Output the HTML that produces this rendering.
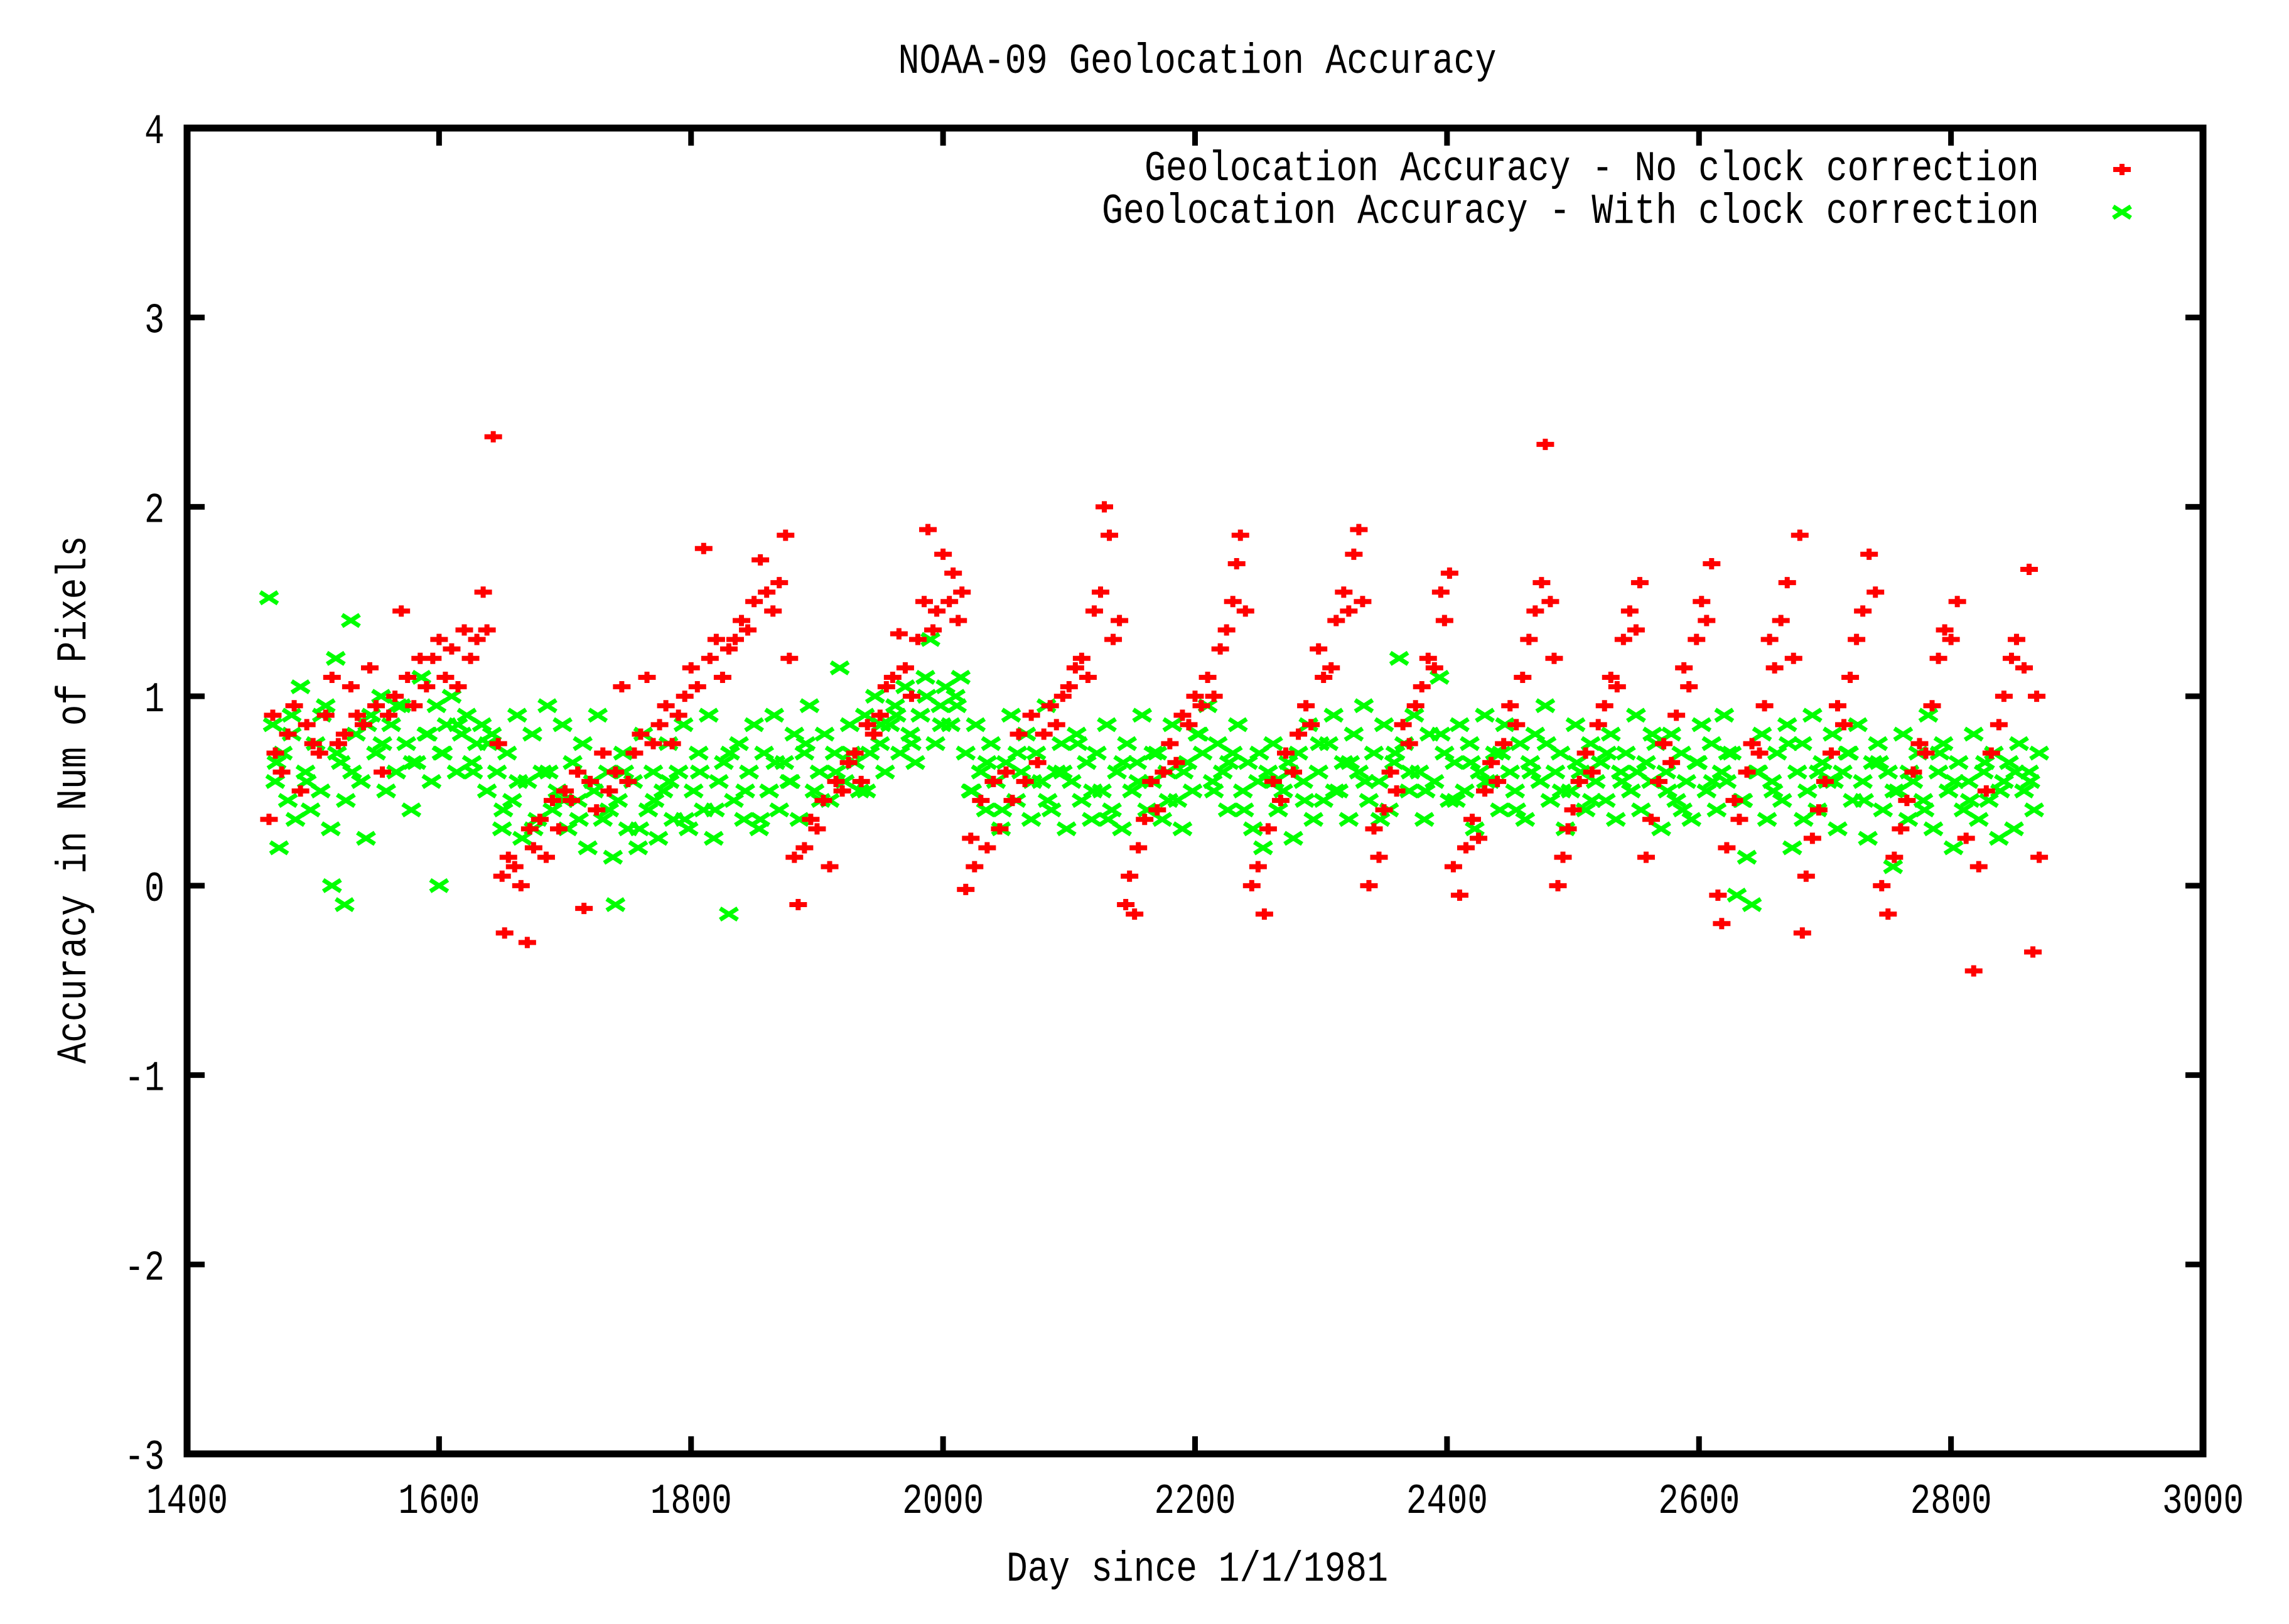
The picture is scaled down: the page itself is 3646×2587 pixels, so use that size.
<!DOCTYPE html>
<html><head><meta charset="utf-8"><style>
html,body{margin:0;padding:0;background:#fff;}
svg text{font-family:"Liberation Mono",monospace;font-size:68px;fill:#000;}
</style></head><body>
<svg id="chart" xmlns="http://www.w3.org/2000/svg" width="3646" height="2582" viewBox="0 0 3646 2582">
<rect width="3646" height="2582" fill="#fff"/>
<text x="1907" y="116" text-anchor="middle" textLength="953" lengthAdjust="spacingAndGlyphs">NOAA-09 Geolocation Accuracy</text>
<text x="1907" y="2518" text-anchor="middle" textLength="608" lengthAdjust="spacingAndGlyphs">Day since 1/1/1981</text>
<text transform="translate(136,1274) rotate(-90)" x="0" y="0" text-anchor="middle" textLength="841" lengthAdjust="spacingAndGlyphs">Accuracy in Num of Pixels</text>
<g id="ticks"></g>
<g id="green"></g>
<g id="red"></g>
<rect x="298" y="204" width="3211" height="2112" fill="none" stroke="#000" stroke-width="11"/>
<g>
<text x="3248" y="287" text-anchor="end" textLength="1425" lengthAdjust="spacingAndGlyphs">Geolocation Accuracy - No clock correction</text>
<text x="3248" y="355" text-anchor="end" textLength="1493" lengthAdjust="spacingAndGlyphs">Geolocation Accuracy - With clock correction</text>
<g id="legmarks"></g>
</g>
</svg>
<script>
const xTicks=[1400,1600,1800,2000,2200,2400,2600,2800,3000];
const yTicks=[-3,-2,-1,0,1,2,3,4];
const redDays=[1465,1468,1470,1475,1480,1485,1490,1495,1500,1505,1510,1515,1520,1525,1530,1535,1540,1545,1550,1555,1560,1565,1570,1575,1580,1585,1590,1595,1600,1605,1610,1615,1620,1625,1630,1635,1638,1643,1647,
1650,1652,1655,1660,1665,1670,1672,1675,1680,1685,1690,1695,1700,1705,1710,1715,1720,1725,1730,1735,1740,1745,1750,1755,1760,1765,1770,1775,1780,1785,1790,1795,1800,1805,1810,1815,1820,1825,1830,1835,1840,1845,1850,1855,1860,1865,1870,1875,1878,
1882,1885,1890,1895,1900,1905,1910,1915,1920,1925,1930,1935,1940,1945,1950,1955,1960,1965,1970,1975,1980,1985,1988,1992,1995,2000,2005,2008,2012,2015,
2018,2022,2025,2030,2035,2040,2045,2050,2055,2060,2065,2070,2075,2080,2085,2090,2095,2100,2105,2110,2115,2120,2125,2128,2132,2135,2140,
2145,2148,2152,2155,2160,2165,2170,2175,2180,2185,2190,2195,2200,2205,2210,2215,2220,2225,2230,2233,2236,2240,
2245,2250,2255,2258,2262,2268,2272,2278,2282,2288,2292,2298,2302,2308,2312,2318,2322,2326,2330,2333,
2338,2342,2346,2350,2355,2360,2365,2370,2375,2380,2385,2390,2395,2398,2402,
2405,2410,2415,2420,2425,2430,2435,2440,2445,2450,2455,2460,2465,2470,2475,2478,2482,2485,
2488,2492,2496,2500,2505,2510,2515,2520,2525,2530,2535,2540,2545,2550,2553,
2558,2562,2568,2572,2578,2582,2588,2592,2598,2602,2606,2610,
2615,2618,2622,2628,2632,2638,2642,2648,2652,2656,2660,2665,2670,2675,2680,
2682,2685,2690,2695,2700,2705,2710,2715,2720,2725,2730,2735,2740,
2745,2750,2755,2760,2765,2770,2775,2780,2785,2790,2795,2800,2805,
2812,2818,2822,2828,2832,2838,2842,2848,2852,2858,2862,2865,2868,2870];
const redVals=[.35,.9,.7,.6,.8,.95,.5,.85,.75,.7,.9,1.1,.75,.8,1.05,.9,.85,1.15,.95,.6,.9,1.0,1.45,1.1,.95,1.2,1.05,1.2,1.3,1.1,1.25,1.05,1.35,1.2,1.3,1.55,1.35,2.37,.75,
.05,-.25,.15,.1,0,-.3,.3,.2,.35,.15,.45,.3,.5,.45,.6,-.12,.55,.4,.7,.5,.6,1.05,.55,.7,.8,1.1,.75,.85,.95,.75,.9,1.0,1.15,1.05,1.78,1.2,1.3,1.1,1.25,1.3,1.4,1.35,1.5,1.72,1.55,1.45,1.6,1.85,1.2,
.15,-.1,.2,.35,.3,.45,.1,.55,.5,.65,.7,.55,.85,.8,.9,1.05,1.1,1.33,1.15,1.0,1.3,1.5,1.88,1.35,1.45,1.75,1.5,1.65,1.4,1.55,
-.02,.25,.1,.45,.2,.55,.3,.6,.45,.8,.55,.9,.65,.8,.95,.85,1.0,1.05,1.15,1.2,1.1,1.45,1.55,2.0,1.85,1.3,1.4,
-.1,.05,-.15,.2,.35,.55,.4,.6,.75,.65,.9,.85,1.0,.95,1.1,1.0,1.25,1.35,1.5,1.7,1.85,1.45,
0,.1,-.15,.3,.55,.45,.7,.6,.8,.95,.85,1.25,1.1,1.15,1.4,1.55,1.45,1.75,1.88,1.5,
0,.3,.15,.4,.6,.5,.85,.75,.95,1.05,1.2,1.15,1.55,1.4,1.65,
.1,-.05,.2,.35,.25,.5,.65,.55,.75,.95,.85,1.1,1.3,1.45,1.6,2.33,1.5,1.2,
0,.15,.3,.4,.55,.7,.6,.85,.95,1.1,1.05,1.3,1.45,1.35,1.6,
.15,.35,.55,.75,.65,.9,1.15,1.05,1.3,1.5,1.4,1.7,
-.05,-.2,.2,.45,.35,.6,.75,.7,.95,1.3,1.15,1.4,1.6,1.2,1.85,
-.25,.05,.25,.4,.55,.7,.95,.85,1.1,1.3,1.45,1.75,1.55,
0,-.15,.15,.3,.45,.6,.75,.7,.95,1.2,1.35,1.3,1.5,
.25,-.45,.1,.5,.7,.85,1.0,1.2,1.3,1.15,1.67,-.35,1.0,.15];
const greenDays=[1465,1468,1470,1473,1476,1480,1483,1486,1490,1494,1498,1502,1506,1510,1514,1515,1518,1522,1525,1526,1530,1534,1538,1542,1546,1550,1554,1558,1562,1566,1570,1574,1578,1582,1586,1590,1594,1598,1600,1602,1606,1610,1614,1618,1622,1626,1630,1634,1638,1642,1646,
1650,1654,1658,1662,1666,1670,1674,1678,1682,1686,1690,1694,1698,1702,1706,1710,1714,1718,1722,1726,1730,1734,1738,1740,1742,1746,1750,1754,1758,1762,1766,1770,1774,1778,1782,1786,1790,1794,1798,1802,1806,1810,1814,1818,1822,1826,1830,1834,1838,1842,1846,1850,1854,1858,1862,1866,1870,1874,1878,1882,1886,1890,1894,1898,1902,1906,1910,1914,1918,1922,1926,1930,1934,1938,1942,1946,1950,
1954,1958,1962,1966,1970,1974,1978,1982,1986,1990,1994,1998,2002,2006,2010,2014,2018,2022,2026,2030,2034,2038,2042,2046,2050,2054,2058,2062,2066,2070,2074,2078,2082,2086,2090,2094,2098,2102,2106,2110,2114,2118,2122,2126,2130,2134,2138,2142,2146,2150,2154,2158,2162,2166,2170,2174,2178,2182,2186,2190,2194,2198,2202,2206,2210,2214,2218,2222,2226,2230,2234,2238,2242,2246,2250,2254,2258,2262,2266,2270,2274,2278,2282,2286,2290,2294,2298,2302,2306,2310,2314,2318,2322,2326,2330,2334,2338,2342,2346,2350,2354,2358,2362,2366,2370,2374,2378,2382,2386,2390,2394,2398,2402,2406,2410,2414,2418,2422,2426,2430,2434,2438,2442,2446,2450,2454,2458,2462,2466,2470,2474,2478,2482,2486,2490,2494,2498,2502,2506,2510,2514,2518,2522,2526,2530,2534,2538,2542,2546,2550,2554,2558,2562,2566,2570,2574,2578,2582,2586,2590,2594,2598,2602,2606,2610,2614,2618,2620,2622,2626,2630,2634,2638,2642,2646,2650,2654,2658,2662,2666,2670,2674,2678,2682,2686,2690,2694,2698,2702,2706,2710,2714,2718,2722,2726,2730,2734,2738,2742,2746,2750,2754,2758,2762,2766,2770,2774,2778,2782,2786,2790,2794,2798,2802,2806,2810,2814,2818,2822,2826,2830,2834,2838,2842,2846,2850,2854,2858,2862,2866,2870];
const greenVals=[1.52,.85,.55,.2,.7,.45,.9,.35,1.05,.6,.4,.75,.5,.95,.3,0,1.2,.65,-.1,.45,1.4,.8,.55,.25,.9,.7,1.0,.5,.85,.6,.95,.75,.4,.65,1.1,.8,.55,.95,0,.7,.85,1.0,.6,.8,.9,.65,.75,.85,.5,.8,.6,
.3,.7,.45,.9,.25,.55,.8,.35,.6,.95,.4,.5,.85,.3,.65,.45,.75,.2,.55,.9,.35,.6,.15,-.1,.45,.7,.3,.55,.2,.8,.4,.6,.25,.5,.75,.35,.6,.85,.3,.5,.7,.4,.9,.25,.55,.65,-.15,.45,.75,.35,.6,.85,.3,.7,.5,.9,.4,.65,.55,.8,.35,.7,.95,.5,.6,.8,.45,.7,1.15,.55,.85,.65,.5,.9,.7,1.0,.75,
.6,.85,.95,.7,1.05,.8,.65,.9,1.1,1.3,.75,.95,1.05,.85,1.0,1.1,.7,.5,.85,.6,.4,.75,.55,.3,.65,.9,.45,.6,.8,.35,.7,.55,.95,.4,.6,.75,.3,.55,.8,.45,.65,.35,.7,.5,.85,.4,.6,.3,.75,.5,.65,.9,.4,.55,.7,.35,.6,.85,.45,.3,.65,.5,.8,.7,.95,.55,.75,.6,.4,.7,.85,.5,.65,.3,.55,.2,.6,.75,.4,.5,.65,.25,.7,.55,.85,.35,.6,.45,.75,.9,.5,.65,.35,.8,.6,.95,.45,.7,.55,.85,.4,.65,1.2,.75,.5,.9,.6,.35,.8,.55,1.1,.7,.45,.65,.85,.5,.75,.3,.6,.9,.55,.7,.4,.85,.6,.5,.75,.35,.65,.8,.55,.95,.45,.6,.7,.3,.5,.85,.6,.4,.75,.55,.65,.45,.8,.35,.6,.7,.5,.9,.4,.65,.55,.75,.3,.6,.8,.45,.7,.55,.35,.65,.85,.5,.75,.4,.6,.9,.55,.7,-.05,.45,.15,-.1,.6,.8,.35,.55,.7,.45,.85,.2,.6,.75,.5,.9,.4,.65,.55,.8,.3,.6,.7,.45,.85,.55,.25,.65,.75,.4,.6,.1,.5,.8,.35,.55,.7,.45,.9,.3,.6,.75,.5,.2,.65,.4,.55,.8,.35,.6,.45,.7,.25,.55,.65,.3,.75,.5,.6,.4,.7,.35,.55,.45];
const greenDays2=[1471,1483,1495,1507,1519,1531,1543,1555,1567,1579,1591,1603,1615,1627,1639,1651,1663,1675,1687,1699,1711,1723,1735,1747,1759,1771,1783,1795,1807,1819,1831,1843,1855,1867,1879,1891,1903,1915,1927,1939,1951,1963,1975,1987,1999,2011,2023,2035,2047,2059,2071,2083,2095,2107,2119,2131,2143,2155,2167,2179,2191,2203,2215,2227,2239,2251,2263,2275,2287,2299,2311,2323,2335,2347,2359,2371,2383,2395,2407,2419,2431,2443,2455,2467,2479,2491,2503,2515,2527,2539,2551,2563,2575,2587,2599,2611,2623,2635,2647,2659,2671,2683,2695,2707,2719,2731,2743,2755,2767,2779,2791,2803,2815,2827,2839,2851,2863];
const greenVals2=[.65,.8,.55,.9,.7,.6,.85,.75,.95,.65,.8,.7,.85,.6,.75,
.4,.55,.3,.6,.45,.35,.5,.4,.6,.3,.45,.55,.35,
.6,.4,.7,.5,.35,.65,.55,.75,.45,.6,.7,.5,
.85,.9,.75,1.0,.85,.95,
.5,.65,.4,.7,.55,.45,.6,.75,.5,.35,.65,.55,.7,.45,.6,.8,.5,.65,.4,.7,.55,.6,.45,.75,.5,.65,.55,.35,.7,.6,.5,.8,.45,.65,.55,.7,.4,.6,.75,.5,.65,.45,.7,.55,.6,.8,.5,.4,.65,.55,.7,.45,.6,.5,.75,.35,.6,.55,.7,.45,.65,.5,.6,.4,.7,.55,.45,.65,.5,.6,.55];

const X0=298,X1=3509,Y0=204,Y1=2316;
function sx(d){return X0+(d-1400)/(3000-1400)*(X1-X0);}
function sy(v){return Y1-(v-(-3))/(4-(-3))*(Y1-Y0);}
const NS='http://www.w3.org/2000/svg';
const ticksG=document.getElementById('ticks');
xTicks.forEach(t=>{
  const x=sx(t);
  const l1=document.createElementNS(NS,'path');
  l1.setAttribute('d',`M${x},${Y1}v-28M${x},${Y0}v28`);
  l1.setAttribute('stroke','#000');l1.setAttribute('stroke-width','9');
  
  
  ticksG.appendChild(l1);
  const tx=document.createElementNS(NS,'text');
  tx.setAttribute('x',x);tx.setAttribute('y',2410);
  tx.setAttribute('text-anchor','middle');
  tx.setAttribute('textLength','130');tx.setAttribute('lengthAdjust','spacingAndGlyphs');
  tx.textContent=t;
  
  
  ticksG.appendChild(tx);
});
yTicks.forEach(t=>{
  const y=sy(t);
  const l1=document.createElementNS(NS,'path');
  l1.setAttribute('d',`M${X0},${y}h28M${X1},${y}h-28`);
  l1.setAttribute('stroke','#000');l1.setAttribute('stroke-width','9');
  
  
  ticksG.appendChild(l1);
  const tx=document.createElementNS(NS,'text');
  tx.setAttribute('x',262);tx.setAttribute('y',y+24);
  tx.setAttribute('text-anchor','end');
  const s=String(t);
  tx.setAttribute('textLength',String(s.length*32));tx.setAttribute('lengthAdjust','spacingAndGlyphs');
  tx.textContent=s;
  
  
  ticksG.appendChild(tx);
});
function plus(x,y){return `M${x-14},${y}h28M${x},${y-9}v18`;}
function cross(x,y){return `M${x-14},${y-9}L${x+14},${y+9}M${x-14},${y+9}L${x+14},${y-9}`;}
let gd='';
greenDays.forEach((d,i)=>{if(greenVals[i]!==undefined)gd+=cross(sx(d),sy(greenVals[i]));});
greenDays2.forEach((d,i)=>{if(greenVals2[i]!==undefined)gd+=cross(sx(d),sy(greenVals2[i]));});
const gp=document.createElementNS(NS,'path');
gp.setAttribute('d',gd);gp.setAttribute('stroke','#0f0');gp.setAttribute('stroke-width','7');gp.setAttribute('fill','none');


document.getElementById('green').appendChild(gp);
let rd='';
redDays.forEach((d,i)=>{if(redVals[i]!==undefined)rd+=plus(sx(d),sy(redVals[i]));});
const rp=document.createElementNS(NS,'path');
rp.setAttribute('d',rd);rp.setAttribute('stroke','#f00');rp.setAttribute('stroke-width','8');rp.setAttribute('fill','none');


document.getElementById('red').appendChild(rp);
const lm=document.getElementById('legmarks');
const m1=document.createElementNS(NS,'path');
m1.setAttribute('d',plus(3380,270));m1.setAttribute('stroke','#f00');m1.setAttribute('stroke-width','8');


lm.appendChild(m1);
const m2=document.createElementNS(NS,'path');
m2.setAttribute('d',cross(3380,338));m2.setAttribute('stroke','#0f0');m2.setAttribute('stroke-width','7');m2.setAttribute('fill','none');


lm.appendChild(m2);
</script>
</body></html>
